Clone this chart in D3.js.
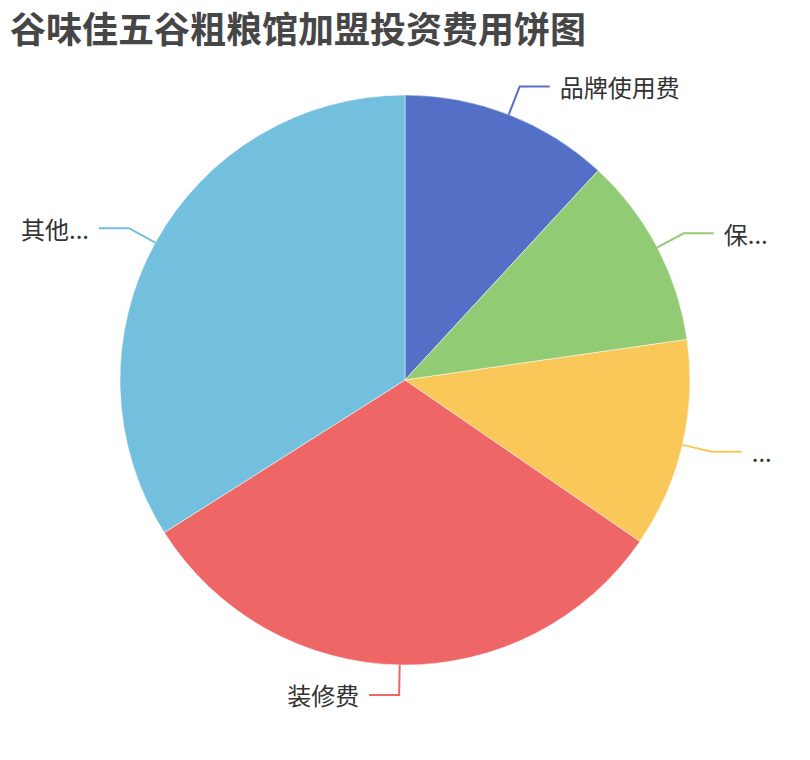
<!DOCTYPE html>
<html>
<head>
<meta charset="utf-8">
<script src="https://cdn.jsdelivr.net/npm/d3@7"></script>
<style>
  html, body { margin: 0; padding: 0; background: #fff; }
  svg { display: block; }
  text { font-family: "Noto Sans CJK SC", "Noto Sans", sans-serif; }
</style>
</head>
<body>
<svg id="chart" width="810" height="760"></svg>
<script>
const title = "谷味佳五谷粗粮馆加盟投资费用饼图";
const categories = ["品牌使用费", "保...", "...", "装修费", "其他..."];
const values = [3.0, 2.75, 3.0, 7.95, 8.6];
const colors = ["#5470c6", "#91cc75", "#fac858", "#ee6666", "#73c0de"];

const W = 810, H = 760;
const cx = W / 2, cy = H / 2;
const radius = Math.min(W, H) / 2 * 0.75;
const len1 = 30, len2 = 30, gap = 10;

const svg = d3.select("#chart");

svg.append("text")
  .attr("x", 10)
  .attr("y", 27)
  .attr("dominant-baseline", "central")
  .attr("font-size", 36)
  .attr("font-weight", "bold")
  .attr("fill", "#464646")
  .text(title);

const data = categories.map((c, i) => ({ name: c, value: values[i], color: colors[i] }));

const pie = d3.pie().sort(null).value(d => d.value);
const arcs = pie(data);
const arc = d3.arc().innerRadius(0).outerRadius(radius);

const g = svg.append("g").attr("transform", `translate(${cx},${cy})`);

g.selectAll("path.slice")
  .data(arcs)
  .join("path")
  .attr("class", "slice")
  .attr("d", arc)
  .attr("fill", d => d.data.color)
  .attr("stroke", "#fff")
  .attr("stroke-width", 0.5);

const pt = (a, r) => [Math.sin(a) * r, -Math.cos(a) * r];

arcs.forEach(d => {
  const mid = (d.startAngle + d.endAngle) / 2;
  const p0 = pt(mid, radius);
  const p1 = pt(mid, radius + len1);
  const right = Math.sin(mid) >= 0;
  const p2 = [p1[0] + (right ? len2 : -len2), p1[1]];
  g.append("polyline")
    .attr("points", [p0, p1, p2].map(p => p.join(",")).join(" "))
    .attr("fill", "none")
    .attr("stroke", d.data.color)
    .attr("stroke-width", 2);
  g.append("text")
    .attr("x", p2[0] + (right ? gap : -gap))
    .attr("y", p2[1])
    .attr("dominant-baseline", "central")
    .attr("text-anchor", right ? "start" : "end")
    .attr("font-size", 24)
    .attr("fill", "#333")
    .text(d.data.name);
});
</script>
</body>
</html>
